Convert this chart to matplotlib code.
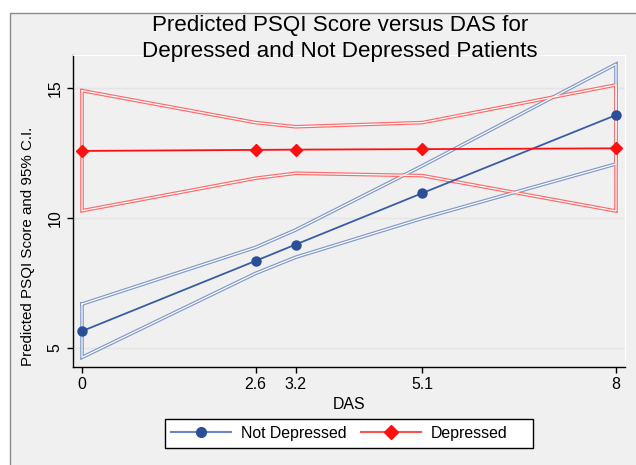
import numpy as np
import matplotlib
matplotlib.use("Agg")
import matplotlib.pyplot as plt
from matplotlib.lines import Line2D
from matplotlib.patches import Rectangle

plt.rcParams["font.family"] = ["Liberation Sans", "DejaVu Sans"]

das = [0, 2.6, 3.2, 5.1, 8]

# Not Depressed: prediction and 95% CI
nd_pred = [5.65, 8.35, 8.98, 10.96, 13.96]
nd_upper = [6.69, 8.87, 9.54, 12.01, 15.92]
nd_lower = [4.64, 7.87, 8.49, 9.99, 12.08]

# Depressed: prediction and 95% CI
d_pred = [12.58, 12.62, 12.63, 12.65, 12.68]
d_upper = [14.90, 13.67, 13.51, 13.67, 15.12]
d_lower = [10.28, 11.53, 11.72, 11.63, 10.27]

BG = "#f0f0f0"
BLUE = "#3a5ca6"
BLUE_MK = "#2b4e98"
BLUE_CI = "#8098c8"
RED = "#ff1010"
RED_CI = "#ff6a6a"

W, H = 636, 465
fig = plt.figure(figsize=(W / 100, H / 100), dpi=100, facecolor="white")

# outer grey graph region (cropped at right/bottom)
fig.patches.append(Rectangle((9.5 / W, -0.1), 1.2, 1.1 - 13 / H, transform=fig.transFigure,
                             facecolor=BG, edgecolor="#8a8a8a", lw=1.0, zorder=-5))

ax = fig.add_axes([73 / W, (H - 367) / H, (625 - 73) / W, (367 - 55) / H])
ax.set_zorder(1)
ax.set_facecolor(BG)


def ci_outline(x, up, lo, color):
    px = list(x) + list(x[::-1]) + [x[0]]
    py = list(up) + list(lo[::-1]) + [up[0]]
    ax.plot(px, py, color=color, lw=2.6, solid_joinstyle="miter", zorder=2)
    ax.plot(px, py, color="#fbfbfb", lw=0.9, solid_joinstyle="miter", zorder=2.1)


ci_outline(das, nd_upper, nd_lower, BLUE_CI)
ci_outline(das, d_upper, d_lower, RED_CI)

ax.plot(das, nd_pred, color=BLUE, lw=1.3, marker="o", ms=6.5,
        mfc=BLUE_MK, mec=BLUE_MK, zorder=3)
ax.plot(das, d_pred, color=RED, lw=1.3, marker="D", ms=6.5,
        mfc=RED, mec=RED, zorder=3)

ax.set_xlim(-0.135, 8.135)
ax.set_ylim(4.27, 16.27)
ax.set_xticks(das)
ax.set_xticklabels(["0", "2.6", "3.2", "5.1", "8"])
ax.set_yticks([5, 10, 15])
ax.set_yticklabels(["5", "10", "15"], rotation=90, va="center")
ax.grid(axis="y", color="#e4e4e4", lw=1.0, zorder=1)
ax.set_axisbelow(True)
ax.tick_params(direction="out", length=4.5, width=1.0, labelsize=11.4, colors="black", pad=3)
for s in ["top", "right"]:
    ax.spines[s].set_color("white")
for s in ["left", "bottom"]:
    ax.spines[s].set_color("black")
    ax.spines[s].set_linewidth(1.0)

ax.set_xlabel("DAS", fontsize=11.4, labelpad=3)
fig.text(28.5 / W, 1 - 246 / H, "Predicted PSQI Score and 95% C.I.", rotation=90,
         ha="center", va="center", fontsize=10.9)

fig.text(340 / W, 1 - 25 / H, "Predicted PSQI Score versus DAS for",
         ha="center", va="center", fontsize=16.1)
fig.text(340 / W, 1 - 52 / H, "Depressed and Not Depressed Patients",
         ha="center", va="center", fontsize=16.1)

# legend box drawn separately (Stata leaves extra room on the right)
fig.patches.append(Rectangle((165 / W, 1 - 448 / H), (533 - 165) / W, 29 / H,
                             transform=fig.transFigure, facecolor="white",
                             edgecolor="black", lw=1.0, zorder=2))
handles = [
    Line2D([], [], color="#6a87c4", lw=1.5, marker="o", ms=7, mfc=BLUE_MK, mec=BLUE_MK),
    Line2D([], [], color="#ff5050", lw=1.5, marker="D", ms=7, mfc=RED, mec=RED),
]
leg = fig.legend(handles, ["Not Depressed", "Depressed"], ncol=2, loc="center left",
                 bbox_to_anchor=(171 / W, 1 - 433.5 / H), fontsize=11.4,
                 handlelength=3.8, handletextpad=0.63, columnspacing=0.88,
                 borderpad=0, borderaxespad=0, frameon=False)
leg.set_zorder(3)

fig.savefig("out.png", dpi=100, facecolor="white")
